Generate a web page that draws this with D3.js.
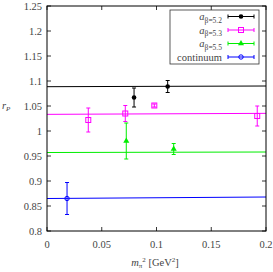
<!DOCTYPE html>
<html>
<head>
<meta charset="utf-8">
<script src="https://cdn.jsdelivr.net/npm/d3@7"></script>
<style>
  body { margin: 0; background: #fff; }
</style>
</head>
<body>
<div id="chart"></div>
<script>
// data
const xTicks = [0, 0.05, 0.1, 0.15, 0.2];
const yTicks = [0.8, 0.85, 0.9, 0.95, 1, 1.05, 1.1, 1.15, 1.2, 1.25];

const seriesNames = ["5.2", "5.3", "5.5", "continuum"];
const seriesColors = ["#000000", "#ff00ff", "#00ee00", "#0000ff"];
const seriesMarkers = ["circle", "square", "triangle", "ocircle"];

const b52X = [0.0795, 0.1102];
const b52Y = [1.067, 1.089];
const b52Err = [0.019, 0.012];

const b53X = [0.0377, 0.0715, 0.098, 0.192];
const b53Y = [1.022, 1.035, 1.051, 1.030];
const b53Err = [0.024, 0.016, 0.003, 0.02];

const b55X = [0.0724, 0.1157];
const b55Y = [0.98, 0.964];
const b55Err = [0.036, 0.011];

const contX = [0.0183];
const contY = [0.865];
const contErr = [0.032];

// fit lines: intercept and slope
const fitIntercept = [1.0886, 1.0333, 0.957, 0.865];
const fitSlope = [0.007, 0.01, 0.005, 0.015];

const pts = [
  [b52X, b52Y, b52Err],
  [b53X, b53Y, b53Err],
  [b55X, b55Y, b55Err],
  [contX, contY, contErr]
];

const W = 273, H = 272;
const margin = {left: 47, right: 7, top: 6, bottom: 41};
const serif = '"Liberation Serif", "DejaVu Serif", serif';

const svg = d3.select('#chart').append('svg')
  .attr('width', W).attr('height', H)
  .attr('font-family', serif);

const x = d3.scaleLinear().domain([0, 0.2]).range([margin.left, W - margin.right]);
const y = d3.scaleLinear().domain([0.8, 1.25]).range([H - margin.bottom, margin.top]);

const tickCol = "#444";

// ticks, inside, on all four sides
const tickLen = 4;
let g = svg.append('g').attr('stroke', '#000').attr('stroke-width', 0.8);
xTicks.forEach(t => {
  g.append('line').attr('x1', x(t)).attr('x2', x(t)).attr('y1', y(0.8)).attr('y2', y(0.8) - tickLen);
  g.append('line').attr('x1', x(t)).attr('x2', x(t)).attr('y1', y(1.25)).attr('y2', y(1.25) + tickLen);
});
yTicks.forEach(t => {
  g.append('line').attr('x1', x(0)).attr('x2', x(0) + tickLen).attr('y1', y(t)).attr('y2', y(t));
  g.append('line').attr('x1', x(0.2)).attr('x2', x(0.2) - tickLen).attr('y1', y(t)).attr('y2', y(t));
});

// tick labels
svg.append('g').selectAll('text').data(xTicks).enter().append('text')
  .attr('x', d => x(d)).attr('y', y(0.8) + 17)
  .attr('text-anchor', 'middle').attr('font-size', 10.5).attr('fill', tickCol)
  .attr('font-family', serif)
  .text(d => d);
svg.append('g').selectAll('text').data(yTicks).enter().append('text')
  .attr('x', x(0) - 5).attr('y', d => y(d) + 3.5)
  .attr('text-anchor', 'end').attr('font-size', 10.5).attr('fill', tickCol)
  .attr('font-family', serif)
  .text(d => d);

// fit lines
seriesNames.forEach((n, i) => {
  svg.append('line')
    .attr('x1', x(0)).attr('x2', x(0.2))
    .attr('y1', y(fitIntercept[i])).attr('y2', y(fitIntercept[i] + fitSlope[i] * 0.2))
    .attr('stroke', seriesColors[i]).attr('stroke-width', 1);
});

function marker(sel, type, cx, cy, col) {
  if (type === 'circle') {
    sel.append('circle').attr('cx', cx).attr('cy', cy).attr('r', 2.3).attr('fill', col);
  } else if (type === 'square') {
    sel.append('rect').attr('x', cx - 2.5).attr('y', cy - 2.5).attr('width', 5).attr('height', 5)
      .attr('fill', 'none').attr('stroke', col).attr('stroke-width', 1);
  } else if (type === 'triangle') {
    sel.append('path').attr('d', d3.symbol().type(d3.symbolTriangle).size(16)())
      .attr('transform', 'translate(' + cx + ',' + cy + ')').attr('fill', col);
  } else {
    sel.append('circle').attr('cx', cx).attr('cy', cy).attr('r', 2.2)
      .attr('fill', 'none').attr('stroke', col).attr('stroke-width', 1);
  }
}

// points with error bars
pts.forEach((p, i) => {
  const col = seriesColors[i];
  const gp = svg.append('g').attr('stroke', col).attr('stroke-width', 1);
  p[0].forEach((xv, j) => {
    const cx = x(xv), yv = p[1][j], e = p[2][j];
    gp.append('line').attr('x1', cx).attr('x2', cx).attr('y1', y(yv - e)).attr('y2', y(yv + e));
    gp.append('line').attr('x1', cx - 2).attr('x2', cx + 2).attr('y1', y(yv - e)).attr('y2', y(yv - e));
    gp.append('line').attr('x1', cx - 2).attr('x2', cx + 2).attr('y1', y(yv + e)).attr('y2', y(yv + e));
    marker(svg, seriesMarkers[i], cx, y(yv), col);
  });
});

// frame
svg.append('rect').attr('x', x(0)).attr('y', y(1.25))
  .attr('width', x(0.2) - x(0)).attr('height', y(0.8) - y(1.25))
  .attr('fill', 'none').attr('stroke', '#000').attr('stroke-width', 1);

// legend
const lg = svg.append('g');
lg.append('rect').attr('x', 170).attr('y', 10).attr('width', 89).attr('height', 54)
  .attr('fill', '#fff').attr('stroke', '#333').attr('stroke-width', 0.8);
const rowY = [16.5, 30, 43.5, 57];
seriesNames.forEach((n, i) => {
  const col = seriesColors[i];
  const t = lg.append('text').attr('x', 222).attr('y', rowY[i] + 3.5)
    .attr('text-anchor', 'end').attr('font-size', 10.5).attr('fill', '#444')
    .attr('font-family', serif);
  if (n === 'continuum') {
    t.text('continuum');
  } else {
    t.append('tspan').attr('font-style', 'italic').text('a');
    t.append('tspan').attr('font-size', 7.5).attr('dy', 2.5).text('\u03b2=' + n);
  }
  const gl = lg.append('g').attr('stroke', col).attr('stroke-width', 1);
  gl.append('line').attr('x1', 228).attr('x2', 254).attr('y1', rowY[i]).attr('y2', rowY[i]);
  gl.append('line').attr('x1', 228).attr('x2', 228).attr('y1', rowY[i] - 2).attr('y2', rowY[i] + 2);
  gl.append('line').attr('x1', 254).attr('x2', 254).attr('y1', rowY[i] - 2).attr('y2', rowY[i] + 2);
  marker(lg, seriesMarkers[i], 241, rowY[i], col);
});

// axis labels
const xl = svg.append('text').attr('x', 155).attr('y', 266).attr('text-anchor', 'middle')
  .attr('font-size', 10.5).attr('fill', '#444').attr('font-family', serif);
xl.append('tspan').attr('font-style', 'italic').text('m');
xl.append('tspan').attr('font-size', 7).attr('dy', 2).text('\u03c0');
xl.append('tspan').attr('font-size', 7).attr('dy', -6).text('2');
xl.append('tspan').attr('dy', 4).text(' [GeV');
xl.append('tspan').attr('font-size', 7).attr('dy', -4).text('2');
xl.append('tspan').attr('dy', 4).text(']');

const yl = svg.append('text').attr('x', 2).attr('y', 109).attr('font-size', 10.5)
  .attr('fill', '#444').attr('font-family', serif);
yl.append('tspan').attr('font-style', 'italic').text('r');
yl.append('tspan').attr('font-size', 7).attr('dy', 2).attr('font-style', 'italic').text('P');
</script>
</body>
</html>
